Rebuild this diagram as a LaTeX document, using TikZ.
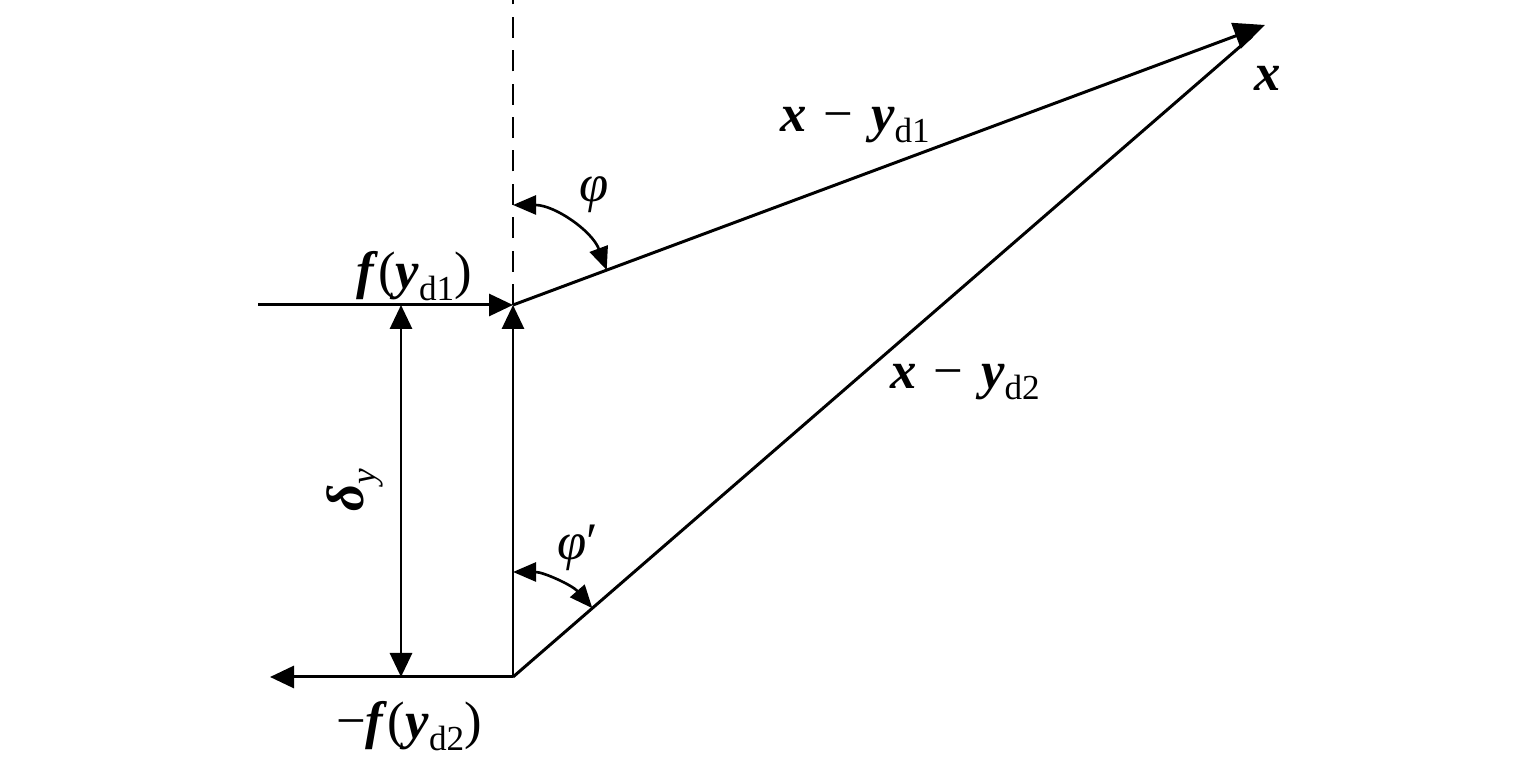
\documentclass[tikz,border=0pt]{standalone}
\usepackage{fontspec}
\setmainfont{Liberation Serif}
\usetikzlibrary{arrows.meta,calc}
\newcommand\bv[1]{\textbf{\textit{#1}}}
\newcommand\sbs[1]{\raisebox{-0.22em}{\fontsize{20}{22}\selectfont #1}}
\newcommand\mns{\hspace{0.33em}−\hspace{0.33em}}

\begin{document}
\begin{tikzpicture}[
    vec/.style={line width=1.7pt,-{Triangle[length=0.48cm,width=0.44cm]}},
    dvec/.style={line width=1.7pt,{Triangle[length=0.48cm,width=0.44cm]}-{Triangle[length=0.48cm,width=0.44cm]}},
    angarc/.style={line width=1.5pt,{Triangle[length=0.46cm,width=0.38cm]}-{Triangle[length=0.46cm,width=0.38cm]}},
    lbl/.style={font=\fontsize{30}{34}\selectfont,inner sep=0pt}]
\useasboundingbox (0,0) rectangle (30.7,15.36);
\coordinate (A) at (10.26,9.26);
\coordinate (B) at (10.26,1.82);
\coordinate (X) at (25.3,14.86);
\coordinate (top) at (10.26,15.36);
\coordinate (fin) at (5.16,9.26);
\coordinate (fout) at (5.4,1.82);
\coordinate (d1) at (8.02,9.26);
\coordinate (d2) at (8.02,1.82);

\draw[line width=1.7pt,dash pattern=on 12pt off 7pt] (A) -- (top);
\draw[vec] (fin) -- (A);
\draw[vec] (B) -- (A);
\draw[vec] (B) -- (fout);
\draw[dvec] (d2) -- (d1);
\draw[line width=1.7pt] (B) -- ($(X)!0.35cm!(B)$);
\draw[vec,-{Triangle[length=0.62cm,width=0.54cm]}] (A) -- (X);

% angles
\draw[angarc] ([shift={(90:2)}]A) arc (90:20.42:2);
\draw[angarc] ([shift={(90:2.1)}]B) arc (90:40.93:2.1);

\node[lbl] (fy1) at (8.28,9.84) {\bv{f}(\bv{y}\sbs{d1})};
\node[lbl] (fy2) at (8.18,0.84) {−\bv{f}(\bv{y}\sbs{d2})};
\node[lbl] (xy1) at (17.1,12.86) {\bv{x}\mns\bv{y}\sbs{d1}};
\node[lbl] (xy2) at (19.3,7.72) {\bv{x}\mns\bv{y}\sbs{d2}};
\node[lbl] (xl) at (25.36,13.8) {\bv{x}};
\node[lbl] (phi) at (11.88,11.46) {\textit{φ}};
\node[lbl] (phi2) at (11.56,4.4) {\textit{φ}′};
\node[lbl,rotate=90] (dy) at (7.1,5.56) {\bv{δ}\sbs{\textit{y}}};
\end{tikzpicture}
\end{document}
